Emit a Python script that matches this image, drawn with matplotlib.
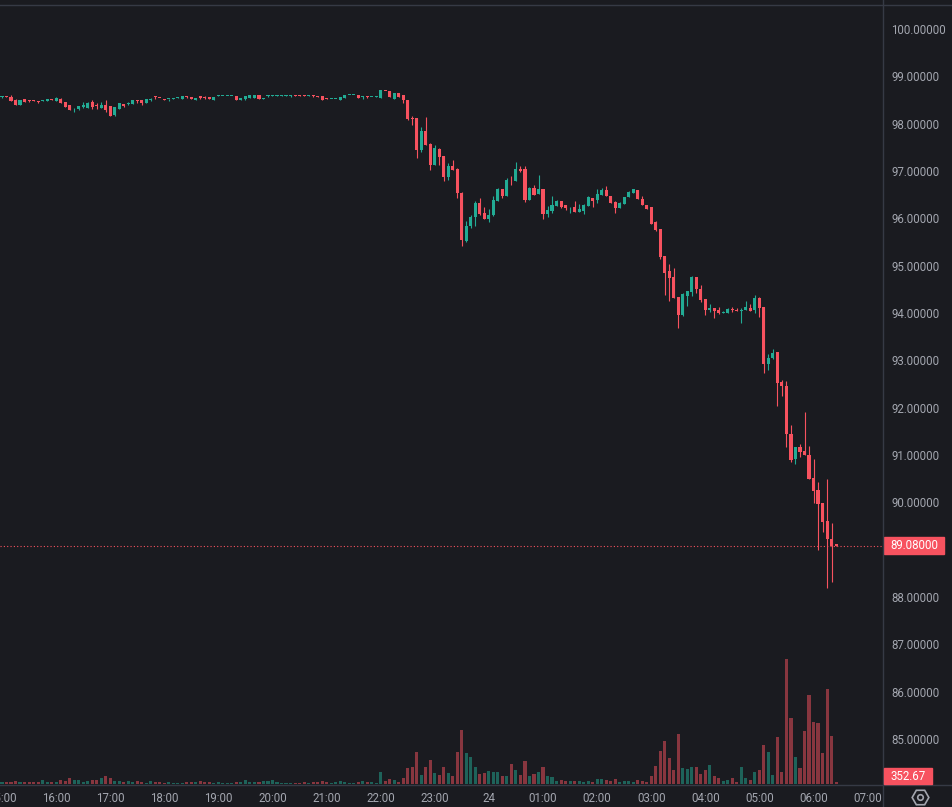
import matplotlib.pyplot as plt
import numpy as np
from matplotlib.patches import Rectangle

# 5-minute candles starting at 15:00
opens = [
    98.57, 98.58, 98.57, 98.51, 98.40, 98.52, 98.49, 98.49, 98.47, 98.47,
    98.48, 98.52, 98.48, 98.53, 98.46, 98.39, 98.30, 98.30, 98.36, 98.34,
    98.45, 98.40, 98.33, 98.40, 98.37, 98.18, 98.32, 98.42, 98.42, 98.42,
    98.51, 98.51, 98.44, 98.51, 98.57, 98.55, 98.52, 98.52, 98.53, 98.55,
    98.52, 98.58, 98.56, 98.50, 98.58, 98.56, 98.56, 98.50, 98.58, 98.58,
    98.58, 98.58, 98.58, 98.51, 98.52, 98.55, 98.55, 98.60, 98.52, 98.58,
    98.59, 98.59, 98.59, 98.59, 98.59, 98.60, 98.60, 98.60, 98.59, 98.59,
    98.58, 98.58, 98.54, 98.52, 98.52, 98.51, 98.55, 98.60, 98.60, 98.60,
    98.56, 98.57, 98.56, 98.57, 98.55, 98.70, 98.69, 98.53, 98.65, 98.60,
    98.51, 98.12, 98.12, 97.44, 97.85, 97.58, 97.12, 97.46, 97.31, 96.88,
    97.11, 97.05, 96.53, 95.52, 95.83, 96.02, 96.33, 96.12, 95.99, 96.07,
    96.37, 96.61, 96.47, 96.82, 96.79, 97.05, 97.04, 96.38, 96.65, 96.51,
    96.62, 96.09, 96.15, 96.26, 96.36, 96.28, 96.23, 96.24, 96.14, 96.16,
    96.26, 96.44, 96.39, 96.49, 96.60, 96.48, 96.34, 96.22, 96.31, 96.45,
    96.54, 96.60, 96.41, 96.28, 96.23, 95.93, 95.77, 95.20, 94.88, 94.76,
    94.34, 93.95, 94.37, 94.45, 94.76, 94.50, 94.29, 94.06, 94.10, 94.06,
    94.00, 94.00, 94.08, 94.06, 94.05, 94.06, 94.11, 94.06, 94.32, 94.13,
    92.93, 93.04, 93.18, 92.54, 92.46, 91.45, 90.92, 91.17, 91.08, 91.01,
    90.51, 90.27, 89.98, 89.60, 89.22, 89.11,
]
highs = [
    98.59, 98.58, 98.61, 98.52, 98.51, 98.52, 98.51, 98.49, 98.47, 98.51,
    98.53, 98.52, 98.56, 98.54, 98.46, 98.39, 98.33, 98.37, 98.45, 98.45,
    98.50, 98.43, 98.45, 98.51, 98.38, 98.36, 98.44, 98.42, 98.45, 98.51,
    98.51, 98.51, 98.52, 98.54, 98.58, 98.55, 98.52, 98.53, 98.55, 98.57,
    98.58, 98.58, 98.56, 98.55, 98.58, 98.58, 98.57, 98.57, 98.60, 98.58,
    98.58, 98.58, 98.58, 98.55, 98.59, 98.60, 98.60, 98.60, 98.55, 98.60,
    98.60, 98.60, 98.60, 98.60, 98.60, 98.60, 98.60, 98.60, 98.60, 98.61,
    98.58, 98.58, 98.54, 98.52, 98.52, 98.57, 98.60, 98.60, 98.60, 98.60,
    98.58, 98.58, 98.57, 98.58, 98.71, 98.70, 98.70, 98.65, 98.65, 98.60,
    98.51, 98.16, 98.13, 97.93, 98.15, 97.60, 97.55, 97.48, 97.32, 97.16,
    97.23, 97.06, 96.55, 95.94, 96.07, 96.37, 96.43, 96.23, 96.19, 96.47,
    96.65, 96.62, 96.86, 96.89, 97.20, 97.11, 97.10, 96.67, 96.70, 96.91,
    96.62, 96.26, 96.47, 96.39, 96.36, 96.28, 96.24, 96.36, 96.31, 96.31,
    96.48, 96.44, 96.63, 96.65, 96.68, 96.48, 96.36, 96.35, 96.45, 96.58,
    96.63, 96.60, 96.47, 96.28, 96.24, 95.94, 95.77, 95.20, 95.04, 94.95,
    94.34, 94.43, 94.47, 94.78, 94.76, 94.59, 94.29, 94.20, 94.10, 94.13,
    94.04, 94.11, 94.12, 94.11, 94.11, 94.25, 94.18, 94.38, 94.33, 94.13,
    93.14, 93.25, 93.18, 92.59, 92.56, 91.63, 91.17, 91.23, 91.91, 91.20,
    90.92, 90.43, 89.98, 90.50, 89.56, 89.11,
]
lows = [
    98.55, 98.57, 98.48, 98.40, 98.40, 98.46, 98.45, 98.48, 98.44, 98.47,
    98.48, 98.50, 98.48, 98.43, 98.35, 98.28, 98.25, 98.29, 98.34, 98.34,
    98.30, 98.30, 98.33, 98.25, 98.16, 98.17, 98.32, 98.36, 98.40, 98.42,
    98.44, 98.40, 98.44, 98.48, 98.52, 98.54, 98.51, 98.48, 98.52, 98.55,
    98.52, 98.55, 98.52, 98.50, 98.52, 98.52, 98.52, 98.50, 98.58, 98.58,
    98.58, 98.58, 98.50, 98.51, 98.50, 98.55, 98.55, 98.52, 98.52, 98.57,
    98.59, 98.59, 98.59, 98.59, 98.57, 98.59, 98.59, 98.59, 98.59, 98.57,
    98.57, 98.51, 98.53, 98.52, 98.52, 98.51, 98.55, 98.60, 98.60, 98.55,
    98.53, 98.54, 98.56, 98.57, 98.55, 98.69, 98.57, 98.53, 98.57, 98.44,
    98.07, 97.98, 97.28, 97.41, 97.55, 97.03, 97.12, 97.12, 96.79, 96.82,
    97.02, 96.42, 95.41, 95.49, 95.80, 95.83, 96.07, 95.98, 95.93, 96.05,
    96.37, 96.44, 96.47, 96.70, 96.79, 96.98, 96.35, 96.38, 96.49, 96.51,
    95.99, 96.03, 96.12, 96.26, 96.21, 96.17, 96.12, 96.14, 96.14, 96.09,
    96.26, 96.23, 96.33, 96.49, 96.48, 96.33, 96.12, 96.22, 96.31, 96.45,
    96.54, 96.40, 96.28, 96.19, 95.88, 95.73, 95.14, 94.38, 94.26, 94.32,
    93.69, 93.93, 94.15, 94.36, 94.43, 94.24, 93.95, 94.02, 93.90, 93.98,
    94.00, 94.00, 94.02, 94.05, 93.79, 94.06, 94.05, 93.99, 93.92, 92.73,
    92.79, 93.02, 92.03, 92.24, 91.16, 90.85, 90.80, 90.96, 90.99, 90.50,
    89.99, 88.99, 89.37, 88.20, 88.32, 89.08,
]
closes = [
    98.58, 98.57, 98.48, 98.40, 98.50, 98.46, 98.48, 98.48, 98.46, 98.50,
    98.53, 98.50, 98.55, 98.43, 98.36, 98.29, 98.31, 98.37, 98.39, 98.44,
    98.36, 98.37, 98.40, 98.29, 98.17, 98.35, 98.43, 98.38, 98.43, 98.50,
    98.47, 98.44, 98.52, 98.52, 98.56, 98.54, 98.51, 98.53, 98.55, 98.56,
    98.58, 98.57, 98.53, 98.55, 98.55, 98.55, 98.53, 98.56, 98.59, 98.58,
    98.58, 98.58, 98.50, 98.55, 98.58, 98.60, 98.60, 98.52, 98.55, 98.59,
    98.60, 98.60, 98.60, 98.60, 98.60, 98.59, 98.59, 98.59, 98.60, 98.58,
    98.57, 98.51, 98.53, 98.52, 98.52, 98.57, 98.60, 98.60, 98.60, 98.55,
    98.57, 98.56, 98.57, 98.58, 98.71, 98.69, 98.57, 98.64, 98.57, 98.50,
    98.09, 98.10, 97.44, 97.85, 97.55, 97.12, 97.48, 97.29, 96.88, 97.10,
    97.02, 96.53, 95.54, 95.84, 96.03, 96.33, 96.09, 95.99, 96.07, 96.39,
    96.63, 96.47, 96.82, 96.80, 97.04, 97.01, 96.39, 96.65, 96.49, 96.62,
    96.09, 96.17, 96.28, 96.37, 96.24, 96.21, 96.24, 96.14, 96.20, 96.28,
    96.46, 96.37, 96.51, 96.60, 96.48, 96.33, 96.22, 96.33, 96.45, 96.56,
    96.61, 96.40, 96.28, 96.19, 95.89, 95.75, 95.19, 94.85, 94.74, 94.32,
    93.95, 94.40, 94.47, 94.76, 94.50, 94.27, 94.06, 94.11, 94.04, 93.99,
    94.02, 94.08, 94.06, 94.05, 94.06, 94.13, 94.05, 94.32, 94.11, 92.93,
    93.06, 93.16, 92.52, 92.46, 91.45, 90.90, 91.17, 91.06, 90.99, 90.50,
    90.25, 89.96, 89.58, 89.22, 89.08, 89.08,
]
volumes = [
    470, 470, 540, 775, 540, 470, 540, 540, 540, 1010,
    540, 470, 540, 940, 775, 1480, 1010, 1010, 540, 775,
    1010, 1010, 1480, 1950, 1480, 775, 775, 540, 775, 540,
    775, 540, 305, 775, 540, 540, 305, 540, 305, 305,
    305, 540, 540, 540, 775, 540, 540, 305, 540, 305,
    305, 305, 540, 540, 1010, 540, 540, 540, 775, 775,
    1010, 540, 305, 305, 305, 305, 305, 540, 305, 540,
    540, 775, 540, 305, 540, 775, 540, 305, 305, 540,
    775, 540, 540, 305, 2820, 775, 1245, 1010, 540, 1480,
    3830, 4065, 7520, 2115, 4065, 5640, 2655, 2185, 4065, 2655,
    1950, 7520, 12760, 7355, 6415, 4065, 2350, 2585, 3055, 2820,
    2820, 1880, 1880, 4700, 3290, 2115, 5405, 1950, 2350, 2820,
    3995, 1880, 1645, 705, 940, 775, 705, 775, 705, 470,
    705, 470, 1175, 1175, 940, 705, 1175, 470, 705, 705,
    470, 940, 705, 470, 1880, 4230, 7755, 10105, 6110, 3290,
    11750, 3760, 3595, 3995, 3995, 2350, 3290, 4465, 1880, 1480,
    705, 940, 1410, 470, 3995, 1410, 940, 2820, 3290, 9165,
    7520, 2115, 11045, 2820, 29375, 15510, 6345, 3760, 12455, 20915,
    14570, 14335, 7285, 22325, 11280, 352.67,
]
hour_labels = ["15:00", "16:00", "17:00", "18:00", "19:00", "20:00", "21:00",
               "22:00", "23:00", "24", "01:00", "02:00", "03:00", "04:00",
               "05:00", "06:00", "07:00"]
# 89.00000 sits under the last-price label, so it is not listed
price_ticks = [85, 86, 87, 88, 90, 91, 92, 93, 94, 95, 96, 97, 98, 99, 100]
last_price = 89.08
last_volume = 352.67

bg = "#1a1b20"
up = "#22ab94"
down = "#f7525f"
txt = "#a3a6af"
line_col = "#363a45"

o = np.array(opens)
h = np.array(highs)
l = np.array(lows)
c = np.array(closes)
v = np.array(volumes)
x = np.arange(len(o))
is_up = c >= o
cols = np.where(is_up, up, down)

plt.rcParams["font.family"] = ["Roboto", "DejaVu Sans"]

fig = plt.figure(figsize=(9.53, 8.07), dpi=100, facecolor=bg)
ax = fig.add_axes([0, 0.0285, 0.9265, 0.9653])
ax2 = ax.twinx()
ax.set_zorder(ax2.get_zorder() + 1)
ax.patch.set_visible(False)
ax2.set_facecolor(bg)

# volume
ax2.bar(x, v, width=0.68, color=cols, alpha=0.5, linewidth=0)
ax2.set_ylim(0, 183000)
ax2.set_yticks([])
for s in ax2.spines.values():
    s.set_visible(False)

# candles
body_lo = np.minimum(o, c)
body_h = np.maximum(np.abs(c - o), 0.02)
ax.vlines(x, l, h, colors=cols, linewidth=0.8)
ax.bar(x, body_h, bottom=body_lo, width=0.68, color=cols, linewidth=0)

ax.set_xlim(-0.44, 195.4)
ax.set_ylim(84.05, 100.507)

ax.set_xticks(np.arange(len(hour_labels)) * 12)
ax.set_xticklabels(hour_labels)
ax.set_yticks(price_ticks)
ax.set_yticklabels([f"{p:.5f}" for p in price_ticks])
ax.yaxis.tick_right()
ax.tick_params(axis="both", length=0, colors=txt, labelsize=8.3)
ax.tick_params(axis="y", pad=5.8)
ax.tick_params(axis="x", pad=5.5)
for s in ax.spines.values():
    s.set_visible(False)

# current price line and labels
ax.axhline(last_price, color=down, linestyle=(0, (1, 2)), linewidth=0.8)
ytr = ax.get_yaxis_transform()
ax.add_patch(Rectangle((1.001, last_price - 0.18), 0.068, 0.36, transform=ytr,
                       color=down, clip_on=False, zorder=5))
ax.text(1.0085, last_price, f"{last_price:.5f}", transform=ytr, color="white",
        fontsize=8.3, va="center", ha="left", zorder=6)

fig.patches.append(Rectangle((884 / 953, 1 - 784 / 807), 48 / 953, 16 / 807,
                             transform=fig.transFigure, color=down, zorder=5))
fig.text(908 / 953, 1 - 776 / 807, f"{last_volume:.2f}", color="white",
         fontsize=8.3, ha="center", va="center", zorder=6)

# frame lines
fig.add_artist(plt.Line2D([0, 1], [1 - 4.5 / 807] * 2, color=line_col, lw=1))
fig.add_artist(plt.Line2D([0, 1], [1 - 784.5 / 807] * 2, color=line_col, lw=1))
fig.add_artist(plt.Line2D([883.5 / 953] * 2, [0, 1], color=line_col, lw=1))

# settings icon
fig.add_artist(plt.Line2D([920 / 953], [1 - 797 / 807], marker="H", markersize=12,
                          markerfacecolor="none", markeredgecolor=txt, mew=1.2))
fig.add_artist(plt.Line2D([920 / 953], [1 - 797 / 807], marker="o", markersize=4,
                          markerfacecolor="none", markeredgecolor=txt, mew=1.2))

fig.savefig("out.png", dpi=100, facecolor=bg)
